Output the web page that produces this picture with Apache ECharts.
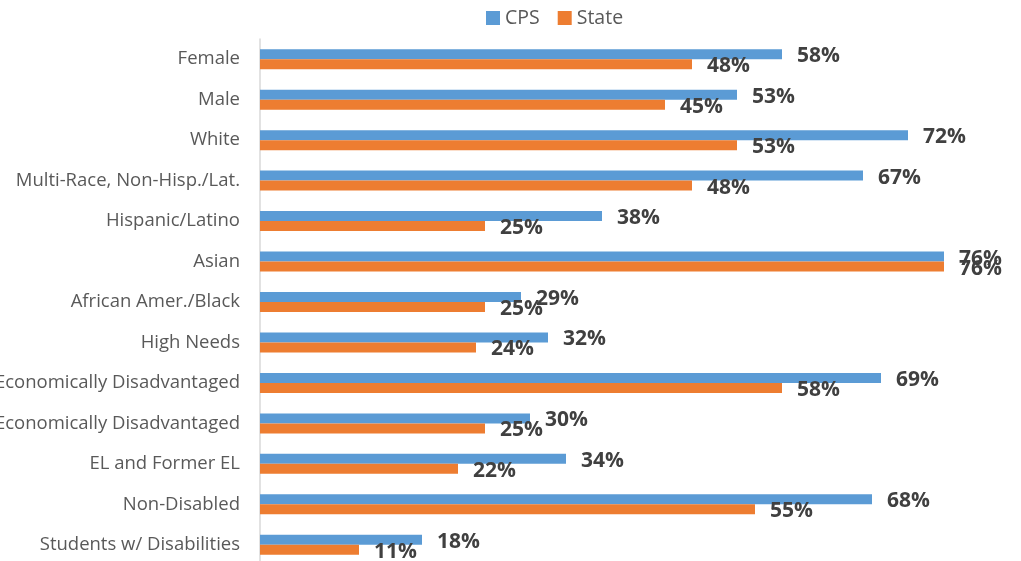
<!DOCTYPE html>
<html>
<head>
<meta charset="utf-8">
<script src="https://cdn.jsdelivr.net/npm/echarts@6/dist/echarts.min.js"></script>
<style>
  html, body { margin: 0; padding: 0; background: #fff; }
  #chart { width: 1021px; height: 561px; }
</style>
</head>
<body>
<div id="chart"></div>
<script>
// Student groups, top to bottom
const categories = [
  'Female',
  'Male',
  'White',
  'Multi-Race, Non-Hisp./Lat.',
  'Hispanic/Latino',
  'Asian',
  'African Amer./Black',
  'High Needs',
  'Non-Economically Disadvantaged',
  'Economically Disadvantaged',
  'EL and Former EL',
  'Non-Disabled',
  'Students w/ Disabilities'
];

// Percent values per group
const cpsValues = [58, 53, 72, 67, 38, 76, 29, 32, 69, 30, 34, 68, 18];
const stateValues = [48, 45, 53, 48, 25, 76, 25, 24, 58, 25, 22, 55, 11];

const seriesNames = ['CPS', 'State'];
const seriesColors = ['#5B9BD5', '#ED7D31'];

const FONT = '"Open Sans", "Noto Sans", sans-serif';

const chart = echarts.init(document.getElementById('chart'), null, { renderer: 'canvas' });

function barSeries(name, values, color, labelOffset) {
  return {
    name: name,
    type: 'bar',
    data: values,
    barWidth: 10,
    barGap: '0%',
    itemStyle: { color: color },
    label: {
      show: true,
      position: 'right',
      distance: 15,
      offset: labelOffset,
      formatter: p => p.value + '%',
      fontFamily: FONT,
      fontWeight: 'bold',
      fontSize: 21,
      color: '#404040'
    },
    animation: false
  };
}

chart.setOption({
  backgroundColor: '#ffffff',
  animation: false,
  legend: {
    data: seriesNames,
    left: 481,
    top: 3,
    icon: 'rect',
    itemWidth: 14,
    itemHeight: 14,
    itemGap: 18,
    textStyle: { fontFamily: FONT, fontSize: 19.5, color: '#595959' }
  },
  grid: {
    left: 260, top: 39, width: 720, height: 526,
    containLabel: false,
    outerBoundsMode: 'none'
  },
  xAxis: {
    type: 'value',
    min: 0,
    max: 80,
    show: false,
    splitLine: { show: false }
  },
  yAxis: {
    type: 'category',
    data: categories,
    inverse: true,
    axisLine: { show: true, lineStyle: { color: '#D9D9D9', width: 1.5 } },
    axisTick: { show: false },
    axisLabel: {
      margin: 20,
      fontFamily: FONT,
      fontSize: 18.5,
      color: '#595959'
    },
    splitLine: { show: false }
  },
  series: [
    barSeries(seriesNames[0], cpsValues, seriesColors[0], [0, 2]),
    barSeries(seriesNames[1], stateValues, seriesColors[1], [0, 2])
  ]
});
</script>
</body>
</html>
